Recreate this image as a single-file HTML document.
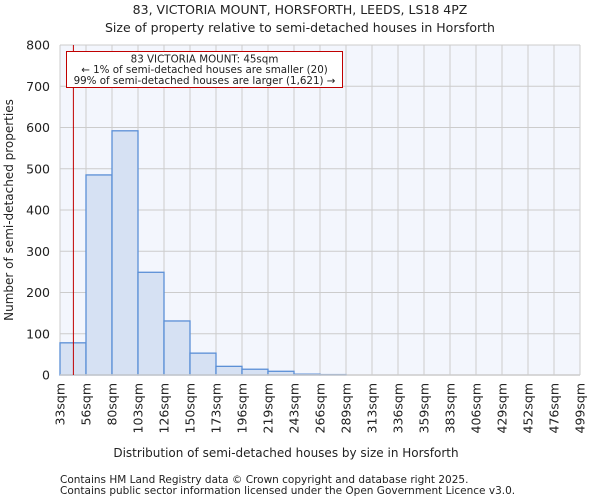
<!DOCTYPE html>
<html><head><meta charset="utf-8"><style>
body{margin:0;background:#fff;font-family:"DejaVu Sans","Liberation Sans",sans-serif;}
svg text{font-family:"DejaVu Sans","Liberation Sans",sans-serif;fill:#222;}
</style></head><body>
<svg id="chart" width="600" height="500">
<text x="300" y="14" font-size="12.5" text-anchor="middle">83, VICTORIA MOUNT, HORSFORTH, LEEDS, LS18 4PZ</text>
<text x="300" y="32" font-size="12.5" text-anchor="middle">Size of property relative to semi-detached houses in Horsforth</text>
<rect x="60" y="45" width="520" height="330" fill="#f3f6fd"/>
<g id="grid"></g><g id="bars"></g><g id="axes"></g>
<text x="286" y="457" font-size="12" text-anchor="middle">Distribution of semi-detached houses by size in Horsforth</text>
<text transform="translate(13,210) rotate(-90)" font-size="12" text-anchor="middle">Number of semi-detached properties</text>
<text x="60" y="483" font-size="10.5" fill="#444">Contains HM Land Registry data © Crown copyright and database right 2025.</text>
<text x="60" y="494" font-size="10.5" fill="#444">Contains public sector information licensed under the Open Government Licence v3.0.</text>
</svg>
<script>
const categories=["33sqm","56sqm","80sqm","103sqm","126sqm","150sqm","173sqm","196sqm","219sqm","243sqm","266sqm","289sqm","313sqm","336sqm","359sqm","383sqm","406sqm","429sqm","452sqm","476sqm","499sqm"];
const counts=[78,485,592,249,131,53,21,14,9,2,1,0,0,0,0,0,0,0,0,0];
const yTicks=[0,100,200,300,400,500,600,700,800];
const binStart=33, binWidth=23.3, subjectSize=45;
const annotationLines=["83 VICTORIA MOUNT: 45sqm","← 1% of semi-detached houses are smaller (20)","99% of semi-detached houses are larger (1,621) →"];
const ns="http://www.w3.org/2000/svg";
const X0=60,X1=580,Y0=375,Y1=45,n=counts.length;
const xs=i=>X0+(X1-X0)*i/n;
const xv=v=>X0+(v-binStart)/(binWidth*n)*(X1-X0);
const ys=v=>Y0-(Y0-Y1)*v/800;
function mk(t,a,p){const e=document.createElementNS(ns,t);for(const k in a)e.setAttribute(k,a[k]);p.appendChild(e);return e;}
const grid=document.getElementById('grid'),bars=document.getElementById('bars'),axes=document.getElementById('axes');
for(let i=0;i<=n;i++){const l=mk('line',{x1:xs(i),x2:xs(i),y1:Y1,y2:Y0,stroke:'#cccccc','stroke-width':1},grid);

}
yTicks.forEach(v=>{const l=mk('line',{x1:X0,x2:X1,y1:ys(v),y2:ys(v),stroke:'#cccccc','stroke-width':1},grid);


const t=mk('text',{x:X0-10,y:ys(v)+4.5,'font-size':12.5,'text-anchor':'end'},axes);t.textContent=v;

});
counts.forEach((c,i)=>{if(c<=0)return;const r=mk('rect',{x:xs(i),y:ys(c),width:xs(i+1)-xs(i),height:Y0-ys(c),fill:'#d6e1f3',stroke:'#5b8fd6','stroke-width':1.3},bars);

});
categories.forEach((c,i)=>{const t=mk('text',{transform:`translate(${xs(i)+4.5},${Y0+8}) rotate(-90)`,'font-size':12.5,'text-anchor':'end'},axes);t.textContent=c;

});
const ax=mk('line',{x1:X0,x2:X1,y1:Y0,y2:Y0,stroke:'#cccccc','stroke-width':1.5},axes);


const m=mk('line',{x1:xv(subjectSize),x2:xv(subjectSize),y1:Y1,y2:Y0,stroke:'#c00000','stroke-width':1},axes);


const box=mk('rect',{x:66.5,y:51.5,width:276,height:36,fill:'#fff',stroke:'#c00000','stroke-width':1},axes);


annotationLines.forEach((s,i)=>{const t=mk('text',{x:204.5,y:62.5+i*10.7,'font-size':10.3,'text-anchor':'middle'},axes);t.textContent=s;

});
</script>
</body></html>
